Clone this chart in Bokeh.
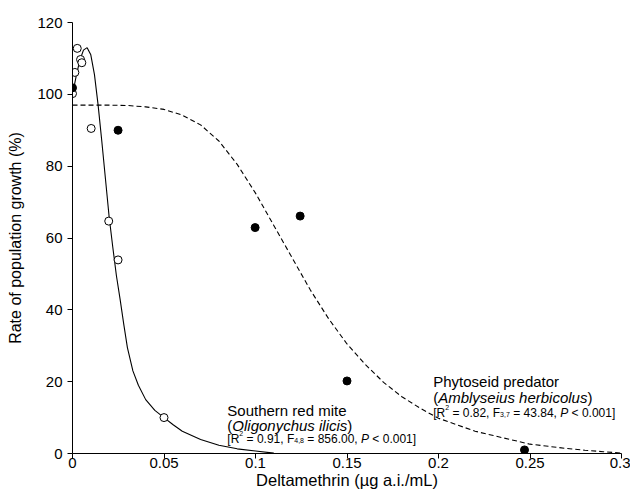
from bokeh.plotting import figure
from bokeh.models import Range1d, FixedTicker
from bokeh.core.properties import value
from bokeh.embed import file_html
from bokeh.resources import INLINE

# ---------------- data ----------------
red_mite_x = [0.0, 0.0013, 0.0026, 0.0044, 0.0051, 0.0102, 0.0198, 0.0249, 0.050]
red_mite_y = [100.2, 106.1, 112.8, 109.7, 108.8, 90.5, 64.7, 53.9, 10.0]

predator_x = [0.0, 0.0249, 0.0998, 0.1244, 0.150, 0.247]
predator_y = [101.8, 90.0, 62.9, 66.1, 20.2, 1.0]

red_mite_fit_x = [0, 0.002, 0.004, 0.006, 0.008, 0.010, 0.012, 0.014, 0.016, 0.018,
                  0.020, 0.022, 0.024, 0.026, 0.028, 0.030, 0.033, 0.036, 0.040, 0.045,
                  0.050, 0.055, 0.060, 0.070, 0.080, 0.090, 0.100, 0.110]
red_mite_fit_y = [100, 105, 109.5, 112.3, 113, 111, 105.5, 97, 87, 76.5,
                  66, 57.5, 49.5, 43, 36, 29.5, 23, 19, 15, 12,
                  10, 8, 6.2, 3.9, 2.3, 1.3, 0.7, 0.1]

predator_fit_x = [0, 0.01, 0.02, 0.03, 0.04, 0.05, 0.06, 0.07, 0.08, 0.09, 0.10,
                  0.11, 0.12, 0.13, 0.14, 0.15, 0.16, 0.17, 0.18, 0.19, 0.20,
                  0.21, 0.22, 0.23, 0.24, 0.25, 0.26, 0.27, 0.28, 0.29, 0.30]
predator_fit_y = [97, 97, 97, 96.9, 96.5, 95.8, 94.2, 91.5, 87, 80.5, 72.5,
                  63.5, 54.5, 45.5, 37.5, 30.5, 24.8, 19.8, 15.8, 12.6, 9.8,
                  8.0, 6.2, 5.0, 3.8, 2.6, 2.0, 1.4, 0.9, 0.5, 0.1]

x_ticks = [0, 0.05, 0.1, 0.15, 0.2, 0.25, 0.3]
x_tick_labels = ["0", "0.05", "0.1", "0.15", "0.2", "0.25", "0.3"]
y_ticks = [0, 20, 40, 60, 80, 100, 120]

x_title = "Deltamethrin (\u00b5g a.i./mL)"
y_title = "Rate of population growth (%)"

# annotation texts
mite_name = "Southern red mite"
mite_latin = "Oligonychus ilicis"
mite_stats = ["[R", "2", " = 0.91, F", "4,8", " = 856.00, ", "P", " < 0.001]"]
pred_name = "Phytoseid predator"
pred_latin = "Amblyseius herbicolus"
pred_stats = ["[R", "2", " = 0.82, F", "3,7", " = 43.84, ", "P", " < 0.001]"]

# ---------------- figure ----------------
FONT = "Liberation Sans"
p = figure(width=630, height=497, output_backend="svg", toolbar_location=None,
           x_range=Range1d(0, 0.3), y_range=Range1d(0, 120),
           min_border_left=72, min_border_top=22, min_border_right=9, min_border_bottom=44)
p.outline_line_color = None
p.grid.visible = False
p.background_fill_color = "white"
p.border_fill_color = "white"

for ax in (p.xaxis[0], p.yaxis[0]):
    ax.axis_line_color = "black"
    ax.axis_line_width = 1
    ax.major_tick_line_color = "black"
    ax.major_tick_out = 5
    ax.major_tick_in = 0
    ax.minor_tick_line_color = None
    ax.major_label_text_font = FONT
    ax.major_label_text_font_size = "15px"
    ax.major_label_text_color = "black"
    ax.axis_label_text_font = FONT
    ax.axis_label_text_font_style = "normal"
    ax.axis_label_text_color = "black"

p.xaxis.axis_label_text_font_size = "16.5px"
p.yaxis.axis_label_text_font_size = "16px"
p.xaxis.ticker = FixedTicker(ticks=x_ticks)
p.xaxis.major_label_overrides = {t: s for t, s in zip(x_ticks, x_tick_labels)}
p.yaxis.ticker = FixedTicker(ticks=y_ticks)
p.xaxis.axis_label = x_title
p.yaxis.axis_label = y_title
p.xaxis.major_label_standoff = -1
p.xaxis.axis_label_standoff = 0
p.yaxis.major_label_standoff = 5
p.yaxis.axis_label_standoff = 10

# ---------------- curves and points ----------------
p.line(red_mite_fit_x, red_mite_fit_y, line_color="black", line_width=1.1)
p.line(predator_fit_x, predator_fit_y, line_color="black", line_width=1.1, line_dash="5 3")
p.scatter(red_mite_x, red_mite_y, marker="circle", size=8, fill_color="white",
          line_color="black", line_width=1)
p.scatter(predator_x, predator_y, marker="circle", size=8, fill_color="black",
          line_color="black", line_width=1)

# ---------------- annotations ----------------
W = {' ': 278, '(': 333, ')': 333, '[': 278, ']': 278, ',': 278, '.': 278, '=': 584,
     '<': 584, 'A': 667, 'F': 611, 'O': 778, 'P': 667, 'R': 722, 'S': 667,
     'a': 556, 'b': 556, 'c': 500, 'd': 556, 'e': 556, 'g': 556, 'h': 556, 'i': 222,
     'l': 222, 'm': 833, 'n': 556, 'o': 556, 'p': 556, 'r': 333, 's': 500, 't': 278,
     'u': 556, 'y': 500}


def tw(s, size):
    return sum(W.get(c, 556) for c in s) * size / 1000.0


def put(x, y, s, size, dx=0.0, dy=0.0, style="normal"):
    # SVG drops leading/trailing blanks, so move them into the offset
    lead = len(s) - len(s.lstrip(" "))
    dx += tw(" " * lead, size)
    s = s.strip(" ")
    p.text(x=[x], y=[y], text=[s], x_offset=dx, y_offset=dy,
           text_font=value(FONT), text_font_size=f"{size}px", text_font_style=style,
           text_color="black", text_align="left", text_baseline="alphabetic")


def block(x, y, name, latin, stats, dy2, dy3):
    big, small, tiny = 15, 12, 7
    put(x, y, name, big)
    put(x, y, "(", big, 0, dy2)
    put(x, y, latin, big, tw("(", big), dy2, "italic")
    put(x, y, ")", big, tw("(", big) + tw(latin, big), dy2)
    sizes = [small, tiny, small, tiny, small, small, small]
    shifts = [0, -5, 0, 2, 0, 0, 0]
    styles = ["normal", "normal", "normal", "normal", "normal", "italic", "normal"]
    off = 0.0
    for s, sz, sh, st in zip(stats, sizes, shifts, styles):
        put(x, y, s, sz, off, dy3 + sh, st)
        off += tw(s, sz)


block(0.0846, 11.9, mite_name, mite_latin, mite_stats, 15, 28)
block(0.1971, 20.1, pred_name, pred_latin, pred_stats, 16, 31.5)

open("out.html", "w").write(file_html(p, INLINE))
